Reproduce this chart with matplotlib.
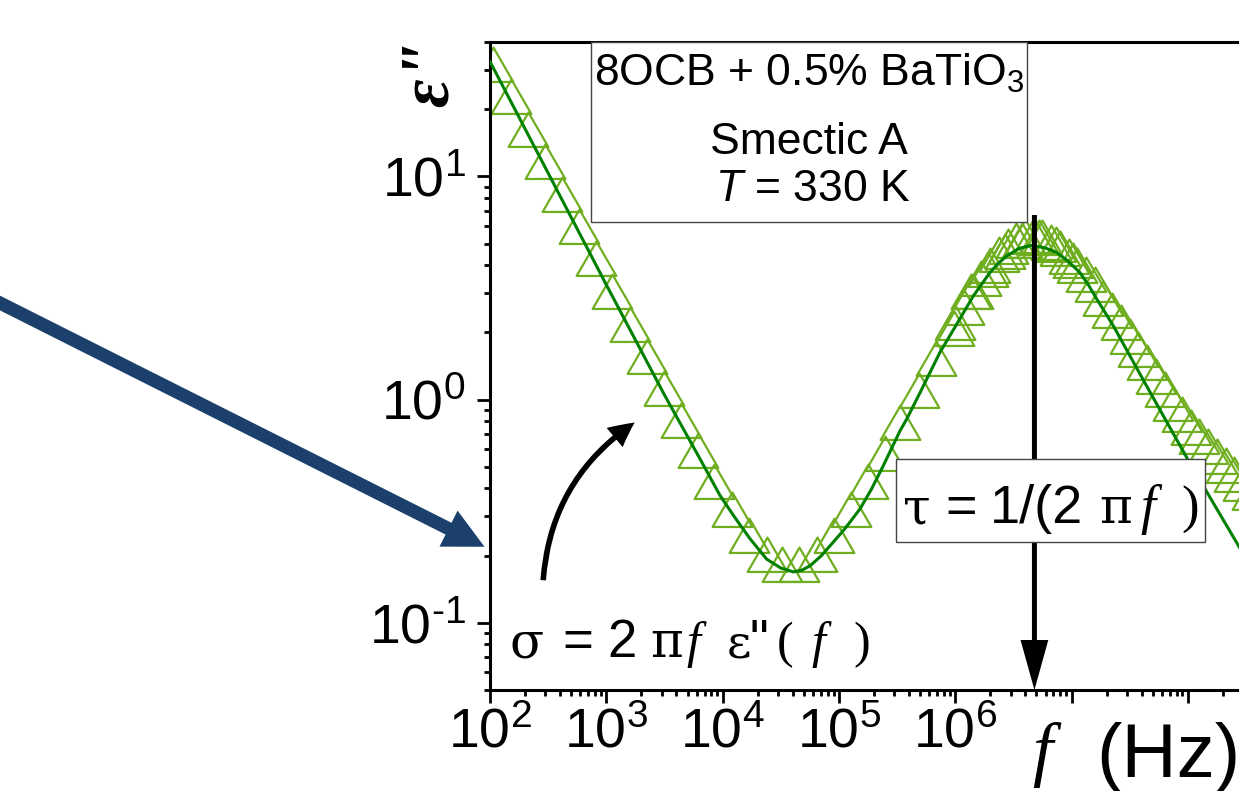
import numpy as np
import matplotlib
matplotlib.use('Agg')
import matplotlib.pyplot as plt
from matplotlib.patches import Rectangle, FancyArrowPatch
from matplotlib.path import Path
from matplotlib.ticker import LogLocator, NullFormatter, FixedLocator, FixedFormatter

# ---------------- data ----------------
freq_lf = [106, 151, 212, 297, 414, 579, 815, 1130, 1600, 2220, 3120, 4370, 6110,
           8430, 12050, 16870, 23930, 32580, 45710, 64420, 90780, 126200, 177000,
           248900, 335000, 488700, 683900, 977200, 1371000, 1923000, 2692000,
           3776000, 5297000, 7413000, 10400000]
eps_lf = [30.0, 21.5, 15.3, 11.0, 7.85, 5.64, 4.03, 2.88, 2.06, 1.48, 1.06, 0.764,
          0.558, 0.407, 0.303, 0.233, 0.191, 0.172, 0.172, 0.191, 0.233, 0.303,
          0.407, 0.544, 0.748, 1.04, 1.44, 1.97, 2.88, 3.63, 4.37, 4.90, 5.01,
          4.68, 3.98]

freq_hf = [1.00e6, 1.19e6, 1.41e6, 1.68e6, 2.00e6, 2.37e6, 2.82e6, 3.35e6, 3.98e6,
           4.73e6, 5.62e6, 6.68e6, 7.94e6, 9.44e6, 1.12e7, 1.33e7, 1.58e7, 1.88e7,
           2.24e7, 2.66e7, 3.16e7, 3.76e7, 4.47e7, 5.31e7, 6.31e7, 7.50e7, 8.91e7,
           1.06e8, 1.26e8, 1.50e8, 1.78e8, 2.11e8, 2.51e8, 2.99e8, 3.55e8, 4.22e8,
           5.01e8]
eps_hf = [2.09, 2.45, 2.88, 3.31, 3.76, 4.22, 4.57, 4.90, 5.07, 5.13, 5.01, 4.79,
          4.47, 4.12, 3.76, 3.43, 3.09, 2.69, 2.37, 2.09, 1.82, 1.58, 1.38, 1.20,
          1.05, 0.912, 0.813, 0.708, 0.646, 0.582, 0.525, 0.479, 0.437, 0.398,
          0.363, 0.331, 0.302]

freq_fit = [1e2, 3.16e2, 1e3, 3.16e3, 6.4e3, 9.5e3, 1.26e4, 1.72e4, 2.39e4, 3.16e4,
            4.06e4, 4.79e4, 5.64e4, 7.08e4, 8.95e4, 1.12e5, 1.52e5, 1.91e5, 2.41e5,
            3.35e5, 3.83e5, 5.01e5, 7.40e5, 1.0e6, 1.20e6, 1.43e6, 1.99e6, 2.34e6,
            2.77e6, 3.55e6, 4.55e6, 5.89e6, 7.46e6, 9.33e6, 1.18e7, 1.41e7, 1.65e7,
            2.29e7, 3.18e7, 4.43e7, 6.15e7, 9.77e7, 1.46e8, 2.72e8, 5.0e8]
eps_fit = [32.7, 10.35, 3.27, 1.05, 0.542, 0.372, 0.299, 0.238, 0.193, 0.176,
           0.169, 0.172, 0.180, 0.200, 0.230, 0.263, 0.324, 0.398, 0.506, 0.724,
           0.818, 1.08, 1.63, 2.12, 2.49, 2.91, 3.71, 4.07, 4.40, 4.76, 4.91, 4.79,
           4.56, 4.17, 3.71, 3.24, 2.82, 2.14, 1.57, 1.15, 0.847, 0.551, 0.385,
           0.222, 0.129]

x_ticks = [1e2, 1e3, 1e4, 1e5, 1e6, 1e7, 1e8, 1e9]
x_tick_labels = ['$10^{2}$', '$10^{3}$', '$10^{4}$', '$10^{5}$', '$10^{6}$', '', '', '']
y_ticks = [0.1, 1, 10]
y_tick_labels = [r'$10^{\text{-}1}$', '$10^{0}$', '$10^{1}$']

f_tau = 4.8e6   # frequency marked by the vertical arrow

# ---------------- style ----------------
W, H = 1239, 791
SANS = 'Liberation Sans'
SERIF = 'Liberation Serif'
GREEK = 'DejaVu Serif'
plt.rcParams['font.family'] = [SANS, 'DejaVu Sans']
plt.rcParams['mathtext.fontset'] = 'custom'
plt.rcParams['mathtext.rm'] = SANS
plt.rcParams['mathtext.it'] = SANS + ':italic'
plt.rcParams['mathtext.bf'] = SANS + ':bold'
plt.rcParams['mathtext.default'] = 'regular'

tri_color = '#6fae1f'
fit_color = '#008000'

fig = plt.figure(figsize=(W / 100, H / 100), dpi=100)


def fx(px):
    return px / W


def fy(py):
    return 1 - py / H


ax_left, ax_bottom, ax_top = 490, 690, 42
decade_px = 116.3
ax = fig.add_axes([fx(ax_left), fy(ax_bottom), 7 * decade_px / W, (ax_bottom - ax_top) / H])

tri = Path([(0, 1.1547), (-1, -0.5774), (1, -0.5774), (0, 1.1547)],
           [Path.MOVETO, Path.LINETO, Path.LINETO, Path.CLOSEPOLY])

for fr, ep in ((freq_lf, eps_lf), (freq_hf, eps_hf)):
    ax.plot(fr, ep, linestyle='none', marker=tri, ms=33, mfc='none',
            mec=tri_color, mew=1.6, zorder=2)
ax.plot(freq_fit, eps_fit, color=fit_color, lw=2.2, zorder=3)

ax.set_xscale('log')
ax.set_yscale('log')
ax.set_xlim(1e2, 1e9)
ax.set_ylim(0.05, 40)
ax.xaxis.set_major_locator(FixedLocator(x_ticks))
ax.xaxis.set_major_formatter(FixedFormatter(x_tick_labels))
ax.yaxis.set_major_locator(FixedLocator(y_ticks))
ax.yaxis.set_major_formatter(FixedFormatter(y_tick_labels))
for a in (ax.xaxis, ax.yaxis):
    a.set_minor_locator(LogLocator(base=10, subs=np.arange(2, 10), numticks=30))
    a.set_minor_formatter(NullFormatter())
ax.tick_params(which='major', direction='out', length=9.5, width=2, labelsize=40,
               top=False, right=False)
ax.tick_params(axis='x', which='major', pad=3)
ax.tick_params(axis='y', which='major', pad=8)
ax.tick_params(which='minor', direction='out', length=4.5, width=2, top=False, right=False)
for s in ax.spines.values():
    s.set_linewidth(2.2)

# vertical arrow at the relaxation peak
ax.annotate('', xy=(f_tau, 0), xycoords=('data', 'axes fraction'),
            xytext=(f_tau, (ax_bottom - 215) / (ax_bottom - ax_top)),
            textcoords=('data', 'axes fraction'),
            arrowprops=dict(arrowstyle='simple,head_length=3.6,head_width=2.0,tail_width=0.36',
                            mutation_scale=10, color='black', lw=0, shrinkA=0, shrinkB=0),
            zorder=4)


def put(px, py, s, size, family=SANS, style='normal', weight='normal', **kw):
    return fig.text(fx(px), fy(py), s, fontsize=size, family=family, style=style,
                    weight=weight, ha='left', va='baseline', zorder=12, **kw)


# top info box
fig.add_artist(Rectangle((fx(591), fy(222)), fx(1027) - fx(591), fy(42) - fy(222),
                         transform=fig.transFigure, fc='white', ec='#444444', lw=1, zorder=10))
fig.text(fx(809), fy(86), '8OCB + 0.5% BaTiO$_{3}$', fontsize=32, ha='center',
         va='baseline', zorder=12)
fig.text(fx(809), fy(154), 'Smectic A', fontsize=32, ha='center', va='baseline', zorder=12)
fig.text(fx(813), fy(201), '$\\mathit{T}$ = 330 K', fontsize=32, ha='center',
         va='baseline', zorder=12)

# tau box
fig.add_artist(Rectangle((fx(896), fy(542)), fx(1205) - fx(896), fy(459) - fy(542),
                         transform=fig.transFigure, fc='white', ec='#444444', lw=1, zorder=10))
ts = 39
put(903, 523, 'τ', 36, family=GREEK)
put(945, 523, '=', ts)
put(990, 523, '1/(2', ts)
put(1099, 523, 'π', 36, family=GREEK)
put(1140, 523, 'f', 39, family=SERIF, style='italic')
put(1181, 523, ')', 38, family=SERIF)

# sigma formula
ss = 38
put(510, 657, 'σ', 36, family=GREEK)
put(562, 657, '=', ss)
put(607, 657, '2', ss)
put(650, 657, 'π', 36, family=GREEK)
put(686, 657, 'f', 36, family=SERIF, style='italic')
put(727, 657, 'ε', 34, family=GREEK)
put(749, 657, '"', ss)
put(777, 657, '(', 36, family=SERIF)
put(811, 657, 'f', 36, family=SERIF, style='italic')
put(853, 657, ')', 36, family=SERIF)

# axis titles
put(1032, 773, 'f', 52, family=SERIF, style='italic')
put(1096, 777, '(Hz)', 55)
fig.text(fx(431), fy(73), 'ε"', fontsize=50, family=SERIF, style='italic', weight='bold',
         rotation=90, ha='center', va='center', zorder=12)

# curved black arrow
fig.add_artist(FancyArrowPatch((fx(543), fy(583)), (fx(637), fy(421)),
                               transform=fig.transFigure, connectionstyle='arc3,rad=-0.25',
                               arrowstyle='simple,head_length=1.8,head_width=1.8,tail_width=0.4',
                               mutation_scale=10, color='black', lw=0, zorder=11))
# big blue arrow
fig.add_artist(FancyArrowPatch((fx(-10), fy(298)), (fx(487), fy(548)),
                               transform=fig.transFigure,
                               arrowstyle='simple,head_length=2.9,head_width=2.9,tail_width=0.95',
                               mutation_scale=10, color='#1b406c', lw=0, zorder=11))

fig.savefig('out.png', dpi=100)
